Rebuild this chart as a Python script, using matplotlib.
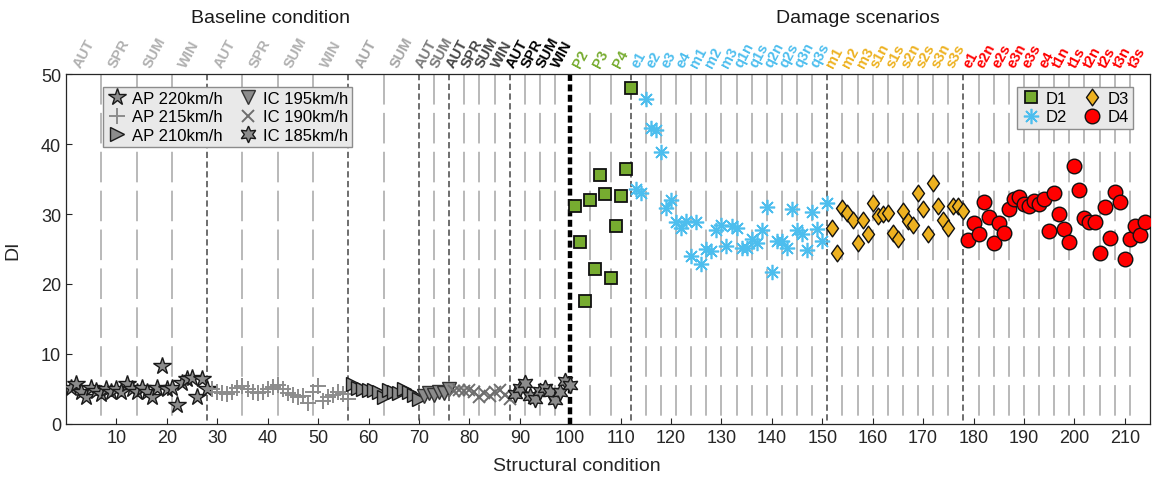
import numpy as np
import matplotlib
matplotlib.use('Agg')
import matplotlib.pyplot as plt
import matplotlib.transforms as mtransforms
from matplotlib.path import Path

plt.rcParams['font.family'] = ['Liberation Sans', 'DejaVu Sans']
plt.rcParams['lines.scale_dashes'] = False

# DI per structural condition (conditions numbered 1..214 in this order)
ap220 = [5.1, 5.7, 4.5, 3.8, 5.1, 4.7, 4.3, 5.0, 4.5, 5.0, 4.5, 5.7, 5.0, 4.5,
         5.1, 4.5, 3.8, 5.1, 8.3, 5.0, 5.1, 2.7, 5.9, 6.4, 6.6, 3.8, 6.4, 5.0]
ap215 = [5.0, 4.6, 4.4, 4.3, 4.6, 5.1, 5.4, 5.0, 4.6, 4.4, 4.6, 5.0, 5.3, 5.6,
         5.0, 4.4, 4.2, 3.8, 4.0, 3.0, 4.5, 5.4, 3.3, 3.9, 4.2, 4.6, 4.3, 3.6]
ap210 = [5.7, 5.2, 5.0, 4.8, 4.9, 4.5, 3.9, 4.9, 4.6, 4.4, 5.0, 4.6, 4.1, 3.6]
ic195 = [4.0, 4.4, 4.2, 4.6, 4.4, 5.0]
ic190 = [4.7, 4.8, 4.7, 4.9, 4.6, 3.8, 4.4, 4.0, 4.5, 4.9, 4.2, 3.6]
ic185 = [4.3, 5.2, 5.8, 4.0, 3.6, 4.7, 5.1, 4.6, 3.4, 4.5, 6.2, 5.5]
d1 = [31.1, 26.0, 17.6, 32.0, 22.1, 35.6, 32.8, 20.9, 28.3, 32.6, 36.4, 48.0]
d2 = [33.6, 33.0, 46.5, 42.3, 42.0, 38.9, 30.8, 32.0, 28.8, 28.0, 29.0, 24.0,
      28.9, 22.9, 25.0, 24.7, 27.7, 28.5, 25.5, 28.3, 28.0, 25.2, 25.2, 26.4,
      25.9, 27.7, 31.0, 21.7, 26.1, 26.1, 25.2, 30.7, 27.7, 27.1, 24.9, 30.3,
      27.8, 26.1, 31.6]
d3 = [28.0, 24.5, 30.9, 30.2, 29.2, 25.9, 29.2, 27.1, 31.6, 29.7, 30.0, 30.2,
      27.3, 26.4, 30.4, 29.0, 28.5, 33.0, 30.7, 27.1, 34.5, 31.1, 29.2, 28.0,
      31.1, 31.2, 30.4]
d4 = [26.3, 28.7, 27.2, 31.7, 29.6, 25.9, 28.7, 27.3, 30.7, 32.2, 32.5, 31.4,
      31.2, 31.9, 31.4, 32.2, 27.6, 33.0, 30.0, 27.8, 26.0, 36.9, 33.5, 29.5,
      28.9, 28.9, 24.4, 31.0, 26.6, 33.1, 31.7, 23.6, 26.4, 28.3, 27.0, 28.8]

# labels along the top, spread evenly over each block
lab_ap220 = ['AUT', 'SPR', 'SUM', 'WIN']
lab_ap215 = ['AUT', 'SPR', 'SUM', 'WIN']
lab_ap210 = ['AUT', 'SUM']
lab_ic195 = ['AUT', 'SUM']
lab_ic190 = ['AUT', 'SPR', 'SUM', 'WIN']
lab_ic185 = ['AUT', 'SPR', 'SUM', 'WIN']
lab_d1 = ['P2', 'P3', 'P4']
lab_d2 = ['e1', 'e2', 'e3', 'e4', 'm1', 'm2', 'm3', 'q1n', 'q1s', 'q2n', 'q2s',
          'q3n', 'q3s']
lab_d3 = ['m1', 'm2', 'm3', 's1n', 's1s', 's2n', 's2s', 's3n', 's3s']
lab_d4 = ['e1', 'e2n', 'e2s', 'e3n', 'e3s', 'e4', 't1n', 't1s', 't2n', 't2s',
          't3n', 't3s']

# matlab-like markers that matplotlib lacks
hexagram = (6, 1, 0)
asterisk = (8, 2, 0)
diamond = Path([(0, 1), (0.72, 0), (0, -1), (-0.72, 0), (0, 1)],
               [Path.MOVETO, Path.LINETO, Path.LINETO, Path.LINETO, Path.CLOSEPOLY])

series = [
    (ap220, lab_ap220, '#b0b0b0', 'AP 220km/h',
     dict(marker='*', ms=13, mfc='#8c8c8c', mec='#1a1a1a', mew=1.0)),
    (ap215, lab_ap215, '#b0b0b0', 'AP 215km/h',
     dict(marker='+', ms=11, mec='#8c8c8c', mew=1.4)),
    (ap210, lab_ap210, '#a6a6a6', 'AP 210km/h',
     dict(marker='>', ms=10, mfc='#8c8c8c', mec='#1a1a1a', mew=1.0)),
    (ic195, lab_ic195, '#7a7a7a', 'IC 195km/h',
     dict(marker='v', ms=10, mfc='#8c8c8c', mec='#333333', mew=1.0)),
    (ic190, lab_ic190, '#454545', 'IC 190km/h',
     dict(marker='x', ms=9, mec='#6e6e6e', mew=1.4)),
    (ic185, lab_ic185, '#000000', 'IC 185km/h',
     dict(marker=hexagram, ms=12, mfc='#8c8c8c', mec='#1a1a1a', mew=1.0)),
    (d1, lab_d1, '#77ac30', 'D1',
     dict(marker='s', ms=8.5, mfc='#77ac30', mec='#111111', mew=1.3)),
    (d2, lab_d2, '#4dbeee', 'D2',
     dict(marker=asterisk, ms=11, mec='#4dbeee', mew=1.2)),
    (d3, lab_d3, '#edb120', 'D3',
     dict(marker=diamond, ms=12, mfc='#edb120', mec='#111111', mew=1.0)),
    (d4, lab_d4, '#ff0000', 'D4',
     dict(marker='o', ms=10.5, mfc='#ff0000', mec='#111111', mew=1.0)),
]

fig = plt.figure(figsize=(11.56, 4.89), dpi=100)
ax = fig.add_axes([0.0571, 0.1309, 0.9377, 0.7157])

ymin, ymax = 0, 50
top_trans = mtransforms.offset_copy(ax.get_xaxis_transform(), fig=fig,
                                    y=5, units='dots')
handles = []
grid_x, sep_x = [], []
start = 0
for vals, labs, lab_col, name, style in series:
    end = start + len(vals)
    x = np.arange(start + 1, end + 1)
    h, = ax.plot(x, vals, ls='none', zorder=3, label=name, **style)
    handles.append(h)
    edges = np.linspace(start, end, len(labs) + 1)
    grid_x.extend(edges[1:-1])
    for c, t in zip((edges[:-1] + edges[1:]) / 2, labs):
        ax.text(c, 1, t, transform=top_trans, rotation=62, ha='center',
                va='bottom', color=lab_col, fontsize=10.5, fontweight='bold')
    sep_x.append(end)
    start = end

n_base = len(ap220) + len(ap215) + len(ap210) + len(ic195) + len(ic190) + len(ic185)

ax.vlines(grid_x, ymax, ymin, colors='#b3b3b3', lw=1.3,
          linestyles=[(0, (22, 6))], zorder=1)
thin_sep = [s for s in sep_x[:-1] if s != n_base]
ax.vlines(thin_sep, ymax, ymin, colors='#555555', lw=1.2,
          linestyles=[(0, (4.5, 2.5))], zorder=2)
ax.vlines([n_base], ymax, ymin, colors='black', lw=3.2,
          linestyles=[(0, (5, 2.5))], zorder=2)

ax.set_xlim(0, 215)
ax.set_ylim(ymin, ymax)
ax.set_xticks(np.arange(10, 211, 10))
ax.set_yticks(np.arange(0, 51, 10))
ax.tick_params(direction='in', length=4, labelsize=13, colors='#262626',
               top=False, right=False)
for sp in ax.spines.values():
    sp.set_color('#262626')
    sp.set_linewidth(0.9)

ax.set_xlabel('Structural condition', fontsize=14, color='#262626')
ax.xaxis.set_label_coords(0.471, -0.095)
ax.set_ylabel('DI', fontsize=14, color='#262626', labelpad=14)

# block titles above the rotated labels
title_trans = mtransforms.blended_transform_factory(ax.transData, fig.transFigure)
ax.text(40.5, 0.963, 'Baseline condition', transform=title_trans, ha='center',
        va='center', fontsize=14, color='#1a1a1a')
ax.text(157, 0.963, 'Damage scenarios', transform=title_trans, ha='center',
        va='center', fontsize=14, color='#1a1a1a')

leg_kw = dict(frameon=True, fancybox=False, facecolor='#e9e9e9',
              edgecolor='#8c8c8c', framealpha=1, fontsize=12, ncol=2,
              handlelength=1.2, handletextpad=0.3, columnspacing=0.9,
              labelspacing=0.2, borderpad=0.25, borderaxespad=0)
leg1 = ax.legend(handles=handles[:6], loc='upper left',
                 bbox_to_anchor=(0.034, 0.963), **leg_kw)
leg1.get_frame().set_linewidth(1.0)
ax.add_artist(leg1)
leg2 = ax.legend(handles=handles[6:], loc='upper right',
                 bbox_to_anchor=(0.984, 0.963), **leg_kw)
leg2.get_frame().set_linewidth(1.0)

fig.savefig('out.png', dpi=100)
